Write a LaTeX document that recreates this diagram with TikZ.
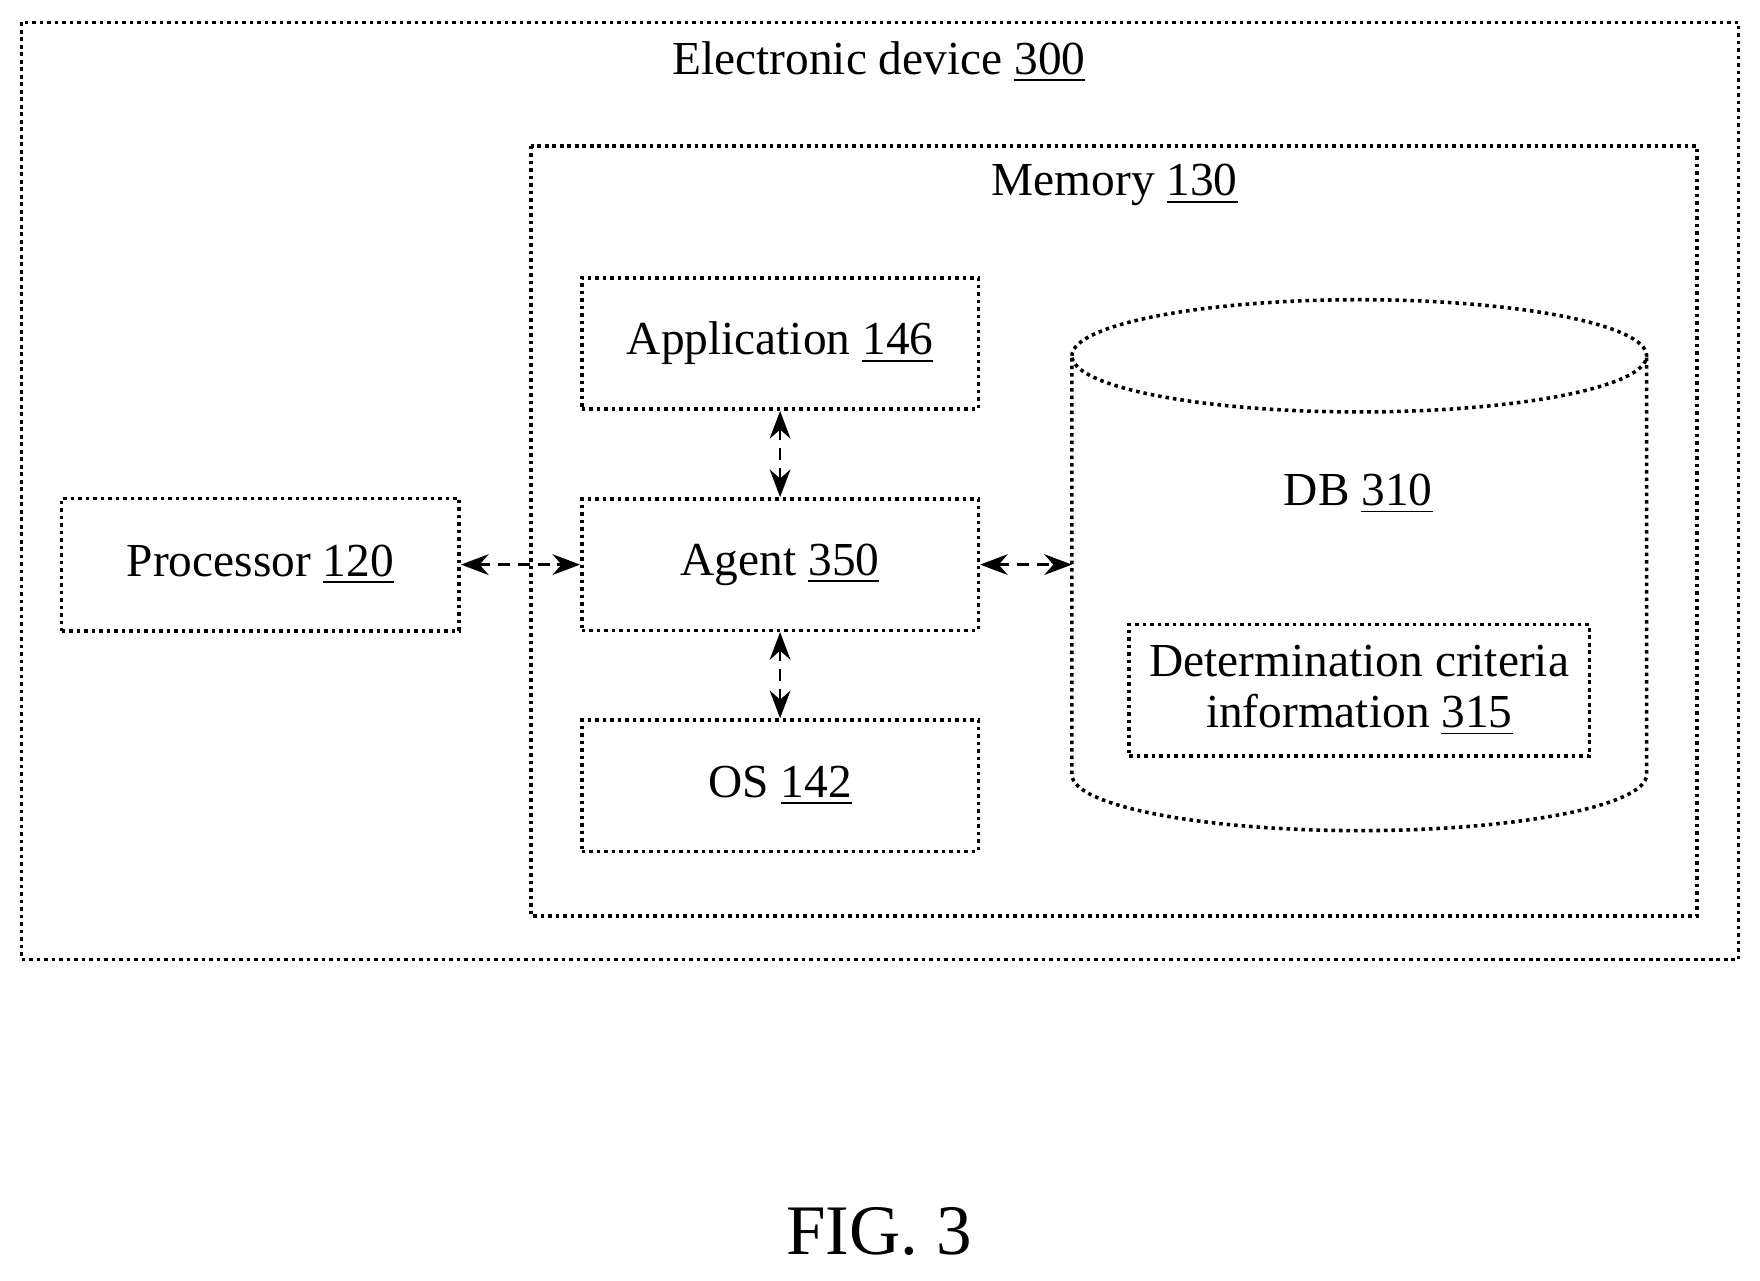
\documentclass[tikz,border=0pt]{standalone}
\usepackage{fontspec}
\setmainfont{Liberation Serif}
\usetikzlibrary{arrows.meta}

\tikzset{
  blk/.style={draw, line width=0.9pt, densely dotted, inner sep=0pt},
  lnk/.style={{Stealth[length=7pt]}-{Stealth[length=7pt]}, densely dashed, line width=0.7pt},
}
\newcommand{\lbl}[2]{#1 \underline{#2}}

\begin{document}
\begin{tikzpicture}[x=0.01cm,y=-0.01cm,font=\fontsize{12}{14}\selectfont]
\useasboundingbox (0,0) rectangle (1568,1141);

\draw[blk] (19,20) rectangle (1549,855);
\node (dev) at (783,55) {\lbl{Electronic device}{300}};

\draw[blk] (473,130) rectangle (1512,816);
\node (mem) at (993,165) {\lbl{Memory}{130}};

\node[blk, minimum width=3.53cm, minimum height=1.17cm] (app) at (695,306) {\lbl{Application}{146}};
\node[blk, minimum width=3.53cm, minimum height=1.17cm] (agent) at (695,503) {\lbl{Agent}{350}};
\node[blk, minimum width=3.53cm, minimum height=1.17cm] (os) at (695,700) {\lbl{OS}{142}};
\node[blk, minimum width=3.54cm, minimum height=1.18cm] (proc) at (232,503) {\lbl{Processor}{120}};

% database cylinder
\draw[line width=0.9pt, densely dotted] (955,317) arc[start angle=180, end angle=360, x radius=256, y radius=50]
  arc[start angle=0, end angle=180, x radius=256, y radius=50] -- (955,690)
  arc[start angle=180, end angle=0, x radius=256, y radius=50] -- (1467,317);
\coordinate (dbw) at (955,503);
\node (db) at (1210,440) {\lbl{DB}{310}};
\node[blk, minimum width=4.10cm, minimum height=1.17cm, align=center] (crit) at (1211,615)
  {Determination criteria\\[-1pt]\lbl{information}{315}};

\draw[lnk] (proc) -- (agent);
\draw[lnk] (app) -- (agent);
\draw[lnk] (agent) -- (os);
\draw[lnk] (agent) -- (dbw);

\node[font=\fontsize{18}{22}\selectfont] (fig) at (783,1097) {FIG. 3};
\end{tikzpicture}
\end{document}
